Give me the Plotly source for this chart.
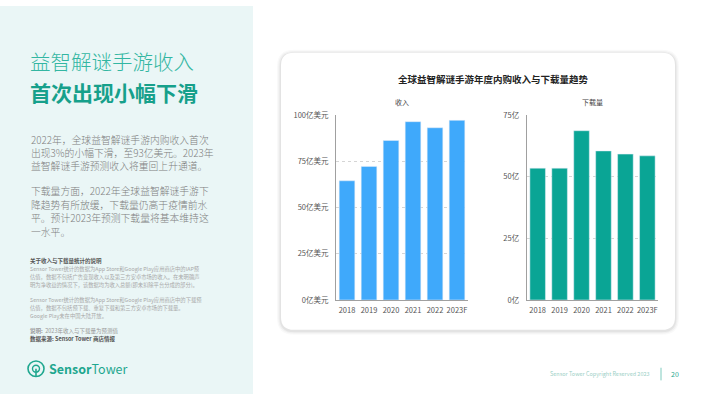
import plotly.graph_objects as go

W, H = 710, 399

# ---------------- data ----------------
years = ["2018", "2019", "2020", "2021", "2022", "2023F"]
revenue = [64.5, 72.3, 86.3, 96.5, 93.2, 97.2]          # 亿美元
downloads = [53.5, 53.5, 68.7, 60.5, 59.2, 58.5]        # 亿次
rev_ticks = [0, 25, 50, 75, 100]
rev_ticktext = ["0亿美元", "25亿美元", "50亿美元", "75亿美元", "100亿美元"]
dl_ticks = [0, 25, 50, 75]
dl_ticktext = ["0亿", "25亿", "50亿", "75亿"]

chart_title = "全球益智解谜手游年度内购收入与下载量趋势"
sub_rev = "收入"
sub_dl = "下载量"
head1 = "益智解谜手游收入"
head2 = "首次出现小幅下滑"
para1 = ["2022年，全球益智解谜手游内购收入首次",
         "出现3%的小幅下滑，至93亿美元。2023年",
         "益智解谜手游预测收入将重回上升通道。"]
para2 = ["下载量方面，2022年全球益智解谜手游下",
         "降趋势有所放缓，下载量仍高于疫情前水",
         "平。预计2023年预测下载量将基本维持这",
         "一水平。"]
note_title = "关于收入与下载量统计的说明"
note1 = ["Sensor Tower统计的数据为App Store和Google Play应用商店中的IAP预",
         "估值，数据不包括广告变现收入以及第三方安卓市场的收入。在未明确声",
         "明为净收益的情况下，该数据均为收入总额(即未扣除平台分成的部分)。"]
note2 = ["Sensor Tower统计的数据为App Store和Google Play应用商店中的下载预",
         "估值，数据不包括预下载、重复下载和第三方安卓市场的下载量。",
         "Google Play未在中国大陆开放。"]
remark = "<b>说明:</b>  2023年收入与下载量为预测值"
source = "<b>数据来源: Sensor Tower 商店情报</b>"
footer = "Sensor Tower Copyright Reserved 2023"
page_no = "20"

FONT = "Noto Sans CJK SC"
BLUE = "#3FA9FB"
TEAL_BAR = "#0AA595"
TEAL = "#1FA78F"


def px(x):
    return x / W


def py(y):
    return 1 - y / H


def rrect(x0, y0, x1, y1, r):
    X0, X1 = px(x0), px(x1)
    Y0, Y1 = py(y0), py(y1)
    rx, ry = r / W, r / H
    return (f"M {X0+rx},{Y0} L {X1-rx},{Y0} Q {X1},{Y0} {X1},{Y0-ry} "
            f"L {X1},{Y1+ry} Q {X1},{Y1} {X1-rx},{Y1} "
            f"L {X0+rx},{Y1} Q {X0},{Y1} {X0},{Y1+ry} "
            f"L {X0},{Y0-ry} Q {X0},{Y0} {X0+rx},{Y0} Z")


fig = go.Figure()
fig.add_trace(go.Bar(x=years, y=revenue, marker_color=BLUE, xaxis="x", yaxis="y",
                     showlegend=False, hoverinfo="x+y"))
fig.add_trace(go.Bar(x=years, y=downloads, marker_color=TEAL_BAR, xaxis="x2", yaxis="y2",
                     showlegend=False, hoverinfo="x+y"))

shapes = []
shapes.append(dict(type="rect", xref="paper", yref="paper", x0=0, x1=px(253), y0=0, y1=1,
                   fillcolor="#EAF6F6", line_width=0, layer="below"))
for i, a in enumerate([0.025, 0.035, 0.05]):
    g = 4 - i * 1.3
    shapes.append(dict(type="path", xref="paper", yref="paper",
                       path=rrect(281 - g, 48 - g + 1, 675 + g, 333 + g + 1, 13 + g),
                       fillcolor=f"rgba(0,0,0,{a})", line_width=0, layer="below"))
shapes.append(dict(type="path", xref="paper", yref="paper", path=rrect(281, 48, 675, 333, 13),
                   fillcolor="white", line_width=0, layer="below"))
# logo icon
shapes.append(dict(type="circle", xref="paper", yref="paper", x0=px(28), x1=px(44), y0=py(381), y1=py(365),
                   line=dict(color=TEAL, width=1.6), fillcolor="rgba(0,0,0,0)"))
shapes.append(dict(type="circle", xref="paper", yref="paper", x0=px(32.5), x1=px(39.5), y0=py(376.5), y1=py(369.5),
                   line=dict(color=TEAL, width=1.4), fillcolor="rgba(0,0,0,0)"))
shapes.append(dict(type="line", xref="paper", yref="paper", x0=px(36), x1=px(36), y0=py(373), y1=py(381),
                   line=dict(color=TEAL, width=1.6)))
shapes.append(dict(type="line", xref="paper", yref="paper", x0=px(661), x1=px(661), y0=py(372), y1=py(385),
                   line=dict(color="#7FCBBE", width=1)))

ann = []


def text(x, y, t, size, color, xanchor="left", bold=False, family=FONT, weight=None):
    f = dict(family=family, size=size, color=color)
    if weight:
        f["weight"] = weight
    ann.append(dict(x=px(x), y=py(y), xref="paper", yref="paper", showarrow=False,
                    text=(f"<b>{t}</b>" if bold else t), xanchor=xanchor, yanchor="middle",
                    font=f))


text(28, 57, head1, 20.5, "#33B6A2", weight=300)
text(28, 88, head2, 21, "#16A08B", bold=True)
for i, line in enumerate(para1):
    text(29, 137.5 + i * 13.4, line, 9.8, "#7E7E7E", weight=300)
for i, line in enumerate(para2):
    text(29, 190.7 + i * 13.9, line, 9.8, "#7E7E7E", weight=300)
text(28, 262.6, note_title, 5.5, "#555555", bold=True)
for i, line in enumerate(note1):
    text(28, 270.2 + i * 8.3, line, 5.3, "#A8A8A8")
for i, line in enumerate(note2):
    text(28, 302.7 + i * 8.3, line, 5.3, "#A8A8A8")
text(28, 334.3, remark, 5.5, "#999999")
text(28, 342.6, source, 5.5, "#555555")
text(47, 372.5, "<b>Sensor</b>Tower", 12.5, TEAL)
text(651.5, 378.5, footer, 5.5, "#9CCFC6", xanchor="right")
text(675, 378.5, page_no, 7, TEAL, xanchor="center")

# watermark (very faint)
text(520, 208, "SensorTower", 26, "rgba(0,0,0,0.022)", xanchor="center", family="Open Sans")

text(493, 75, chart_title, 9.5, "#222222", xanchor="center", bold=True)
text(402, 99, sub_rev, 7, "#444444", xanchor="center")
text(592.5, 99, sub_dl, 7, "#444444", xanchor="center")

axis_common = dict(showline=True, linecolor="#A0A0A0", linewidth=1,
                   tickfont=dict(family=FONT, size=7.5, color="#555555"), fixedrange=True)

fig.update_layout(
    width=W, height=H, margin=dict(l=0, r=0, t=0, b=0),
    paper_bgcolor="white", plot_bgcolor="rgba(0,0,0,0)",
    bargap=0.29, showlegend=False,
    shapes=shapes, annotations=ann,
    xaxis=dict(domain=[px(336), px(468)], anchor="y", showgrid=False, ticks="outside", ticklen=3,
               tickcolor="rgba(0,0,0,0)", **axis_common),
    yaxis=dict(domain=[py(302.3), py(112.3)], anchor="x", range=[0, 100], tickvals=rev_ticks,
               ticktext=rev_ticktext, showgrid=True, gridcolor="#D5D5D5", griddash="dot", gridwidth=1,
               zeroline=False, ticks="outside", ticklen=5, tickcolor="rgba(0,0,0,0)", **axis_common),
    xaxis2=dict(domain=[px(526.7), px(658.3)], anchor="y2", showgrid=False, ticks="outside", ticklen=3,
                tickcolor="rgba(0,0,0,0)", **axis_common),
    yaxis2=dict(domain=[py(302.3), py(112.3)], anchor="x2", range=[0, 75], tickvals=dl_ticks,
                ticktext=dl_ticktext, showgrid=True, gridcolor="#D5D5D5", griddash="dot", gridwidth=1,
                zeroline=False, ticks="outside", ticklen=5, tickcolor="rgba(0,0,0,0)", **axis_common),
)

fig.write_html("out.html", config={"displayModeBar": False})
